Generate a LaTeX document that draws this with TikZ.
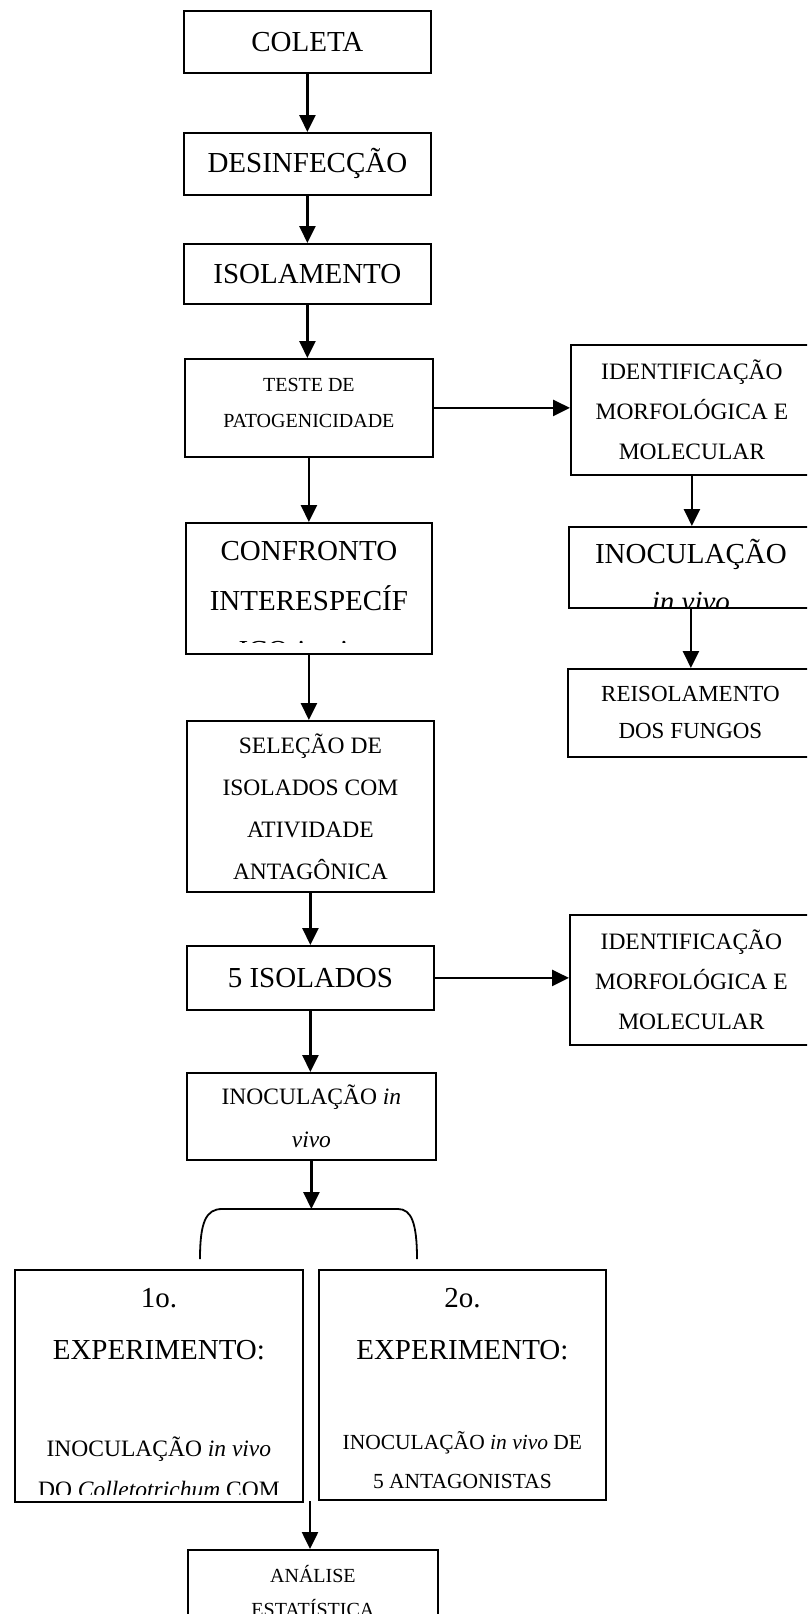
\documentclass[tikz,border=0pt]{standalone}
\usepackage{fontspec}
\setmainfont{Liberation Serif}
\usetikzlibrary{arrows.meta}

\begin{document}
\begin{tikzpicture}[x=1pt,y=-1pt,
  every node/.style={inner sep=0pt,align=center},
  box/.style={draw,line width=1.8pt,anchor=north west},
  big/.style={font=\fontsize{29}{50}\selectfont},
  mid/.style={font=\fontsize{23.5}{40}\selectfont},
  sml/.style={font=\fontsize{20}{36}\selectfont},
  seta/.style={line width=2.5pt,-{Triangle[length=17pt,width=16pt]}}]

 \useasboundingbox (0,0) rectangle (807,1614);
 \clip (0,0) rectangle (807,1614);

 % coluna central
 \node[box,big,minimum width=247pt,minimum height=62pt] (coleta) at (183,10) {COLETA};
 \node[box,big,minimum width=247pt,minimum height=62pt] (desinf) at (183,132) {DESINFECÇÃO};
 \node[box,big,minimum width=247pt,minimum height=60pt] (isol) at (183,243) {ISOLAMENTO};
 \node[box,sml,minimum width=248pt,minimum height=98pt,text depth=10pt] (teste) at (184,358) {TESTE DE\\PATOGENICIDADE};
 \node[box,minimum width=246pt,minimum height=131pt] (conf) at (185,522) {};
 \begin{scope}
  \clip (conf.north west) rectangle ([yshift=12pt]conf.south east);
  \node[big,anchor=base] (conf-t) at ([yshift=-138pt]conf.north) {CONFRONTO\\INTERESPECÍF\\ICO \textit{in vitro}};
 \end{scope}
 \node[box,minimum width=247pt,minimum height=171pt,font=\fontsize{23.5}{42}\selectfont] (selec) at (186,720) {SELEÇÃO DE\\ISOLADOS COM\\ATIVIDADE\\ANTAGÔNICA};
 \node[box,big,minimum width=247pt,minimum height=64pt] (cinco) at (186,945) {5 ISOLADOS};
 \node[box,minimum width=249pt,minimum height=87pt,font=\fontsize{23.5}{43}\selectfont] (inocC) at (186,1072) {INOCULAÇÃO \textit{in}\\\textit{vivo}};

 % coluna direita
 \node[box,mid,minimum width=242pt,minimum height=130pt] (id1) at (570,344) {IDENTIFICAÇÃO\\MORFOLÓGICA E\\MOLECULAR};
 \node[box,minimum width=244pt,minimum height=81pt] (inocR) at (568,526) {};
 \begin{scope}
  \clip (inocR.north west) rectangle ([yshift=2pt]inocR.south east);
  \node[anchor=base,font=\fontsize{29}{48}\selectfont] (inocR-t) at ([yshift=-85pt]inocR.north) {INOCULAÇÃO\\\textit{in vivo}};
 \end{scope}
 \node[box,minimum width=245pt,minimum height=88pt,font=\fontsize{23}{37}\selectfont] (reisol) at (567,668) {REISOLAMENTO\\DOS FUNGOS};
 \node[box,mid,minimum width=243pt,minimum height=130pt] (id2) at (569,914) {IDENTIFICAÇÃO\\MORFOLÓGICA E\\MOLECULAR};

 % experimentos
 \node[box,minimum width=288pt,minimum height=232pt] (exp1) at (14,1269) {};
 \begin{scope}
  \clip (exp1.north west) rectangle ([yshift=8pt]exp1.south east);
  \node[anchor=base,font=\fontsize{29}{52}\selectfont] (exp1-a) at ([yshift=-90pt]exp1.north) {1o.\\EXPERIMENTO:};
  \node[anchor=base,font=\fontsize{23.5}{41}\selectfont] (exp1-b) at ([yshift=-228pt]exp1.north) {INOCULAÇÃO \textit{in vivo}\\DO \textit{Colletotrichum} COM};
 \end{scope}
 \node[box,minimum width=287pt,minimum height=230pt] (exp2) at (318,1269) {};
 \node[anchor=base,font=\fontsize{29}{52}\selectfont] (exp2-a) at ([yshift=-90pt]exp2.north) {2o.\\EXPERIMENTO:};
 \node[anchor=base,font=\fontsize{21.5}{39}\selectfont] (exp2-b) at ([yshift=-219pt]exp2.north) {INOCULAÇÃO \textit{in vivo} DE\\5 ANTAGONISTAS};

 \node[box,minimum width=250pt,minimum height=100pt] (analise) at (187,1549) {};
 \node[anchor=base,font=\fontsize{20}{34}\selectfont] (analise-t) at ([yshift=-67pt]analise.north) {ANÁLISE\\ESTATÍSTICA};

 % chave
 \coordinate (bl) at (200,1259);
 \coordinate (br) at (417,1259);
 \coordinate (bt) at (304,1209);
 \coordinate (gap) at (310,1501);
 \draw[line width=1.8pt] (bl) .. controls (200,1222) and (206,1209) .. (222,1209) -- (398,1209) .. controls (411,1209) and (417,1222) .. (br);

 % setas
 \draw[seta] (coleta.south) -- (coleta.south |- desinf.north);
 \draw[seta] (desinf.south) -- (desinf.south |- isol.north);
 \draw[seta] (isol.south) -- (isol.south |- teste.north);
 \draw[seta] (teste.south) -- (teste.south |- conf.north);
 \draw[seta] (conf.south) -- (conf.south |- selec.north);
 \draw[seta] (selec.south) -- (selec.south |- cinco.north);
 \draw[seta] (cinco.south) -- (cinco.south |- inocC.north);
 \draw[seta] (inocC.south) -- (inocC.south |- bt);
 \draw[seta] (teste.east) -- (teste.east -| id1.west);
 \draw[seta] (cinco.east) -- (cinco.east -| id2.west);
 \draw[seta] (id1.south) -- (id1.south |- inocR.north);
 \draw[seta] (inocR.south) -- (inocR.south |- reisol.north);
 \draw[seta] (gap) -- (gap |- analise.north);
\end{tikzpicture}
\end{document}
